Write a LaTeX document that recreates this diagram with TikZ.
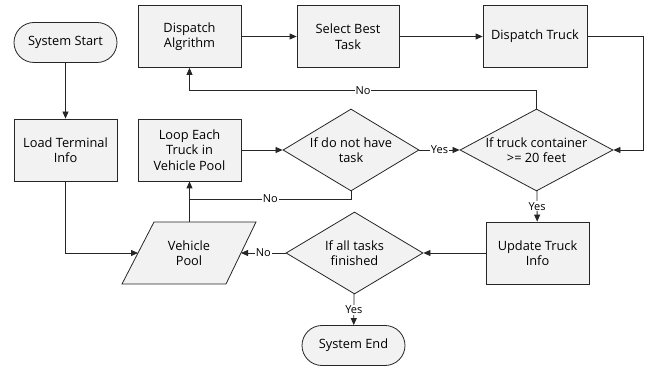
\documentclass[tikz,border=0pt]{standalone}
\usepackage{fontspec}
\setmainfont{Open Sans}
\usetikzlibrary{arrows.meta,shapes.geometric,calc}
\definecolor{boxfill}{HTML}{F2F2F2}
\begin{document}
\begin{tikzpicture}[x=1pt,y=-1pt,
  base/.style={draw=black!85, line width=0.8pt, fill=boxfill, inner sep=0pt, align=center,
    font=\fontsize{12.8}{15.5}\selectfont},
  procbox/.style={base, rectangle, minimum width=103pt, minimum height=62pt},
  termbox/.style={base, rectangle, rounded corners=20pt, minimum width=103pt, minimum height=40pt},
  decbox/.style={base, diamond, minimum height=82pt},
  arr/.style={draw=black!85, line width=0.8pt, -{Triangle[length=7pt,width=6pt]}},
  conn/.style={draw=black!85, line width=0.8pt},
  lab/.style={fill=white, inner sep=1pt, font=\fontsize{11}{12}\selectfont},
  txt/.style={align=center, font=\fontsize{12.8}{15.5}\selectfont}
]
\useasboundingbox (0,0) rectangle (651,366);

\node[termbox] (start) at (65.5,42.5) {System Start};
\node[procbox] (load) at (65.5,150) {Load Terminal\\Info};
\node[procbox] (alg) at (189.5,36.5) {Dispatch\\Algrithm};
\node[procbox, minimum width=102pt] (sel) at (348,36.5) {Select Best\\Task};
\node[procbox, minimum width=104pt] (dtruck) at (535,36.5) {Dispatch Truck};
\node[procbox] (loop) at (189.5,150) {Loop Each\\Truck in\\Vehicle Pool};
\node[decbox, minimum width=136pt, label={[txt]center:If do not have\\task}] (d1) at (351,150) {};
\node[decbox, minimum width=153pt, label={[txt]center:If truck container\\>= 20 feet}] (d2) at (536.5,150) {};
\node[procbox] (upd) at (537.5,253) {Update Truck\\Info};
\node[decbox, minimum width=137pt, label={[txt]center:If all tasks\\finished}] (d3) at (354.5,253) {};
\node[termbox] (end) at (353.5,345.5) {System End};

% Vehicle Pool parallelogram
\coordinate (ptl) at (154,222);
\coordinate (ptr) at (256,222);
\coordinate (pbr) at (226,284);
\coordinate (pbl) at (122,284);
\draw[line width=0.8pt, draw=black!85, fill=boxfill] (ptl) -- (ptr) -- (pbr) -- (pbl) -- cycle;
\node[txt] (pool) at (189,253) {Vehicle\\Pool};
\coordinate (pleft) at ($(ptl)!0.5!(pbl)$);
\coordinate (pright) at ($(ptr)!0.5!(pbr)$);
\coordinate (ptop) at (189.5,222);

\coordinate (j1) at (189.5,199);
\coordinate (c1) at (643,150);

\draw[arr] (start) -- (load);
\draw[arr] (load.south) |- (pleft);
\draw[arr] (ptop) -- (loop.south);
\draw[arr] (loop) -- (d1);
\draw[conn] (d1.south) |- node[lab, pos=0.75] {No} (j1);
\draw[arr] (d1) -- node[lab] {Yes} (d2);
\draw[arr] (alg) -- (sel);
\draw[arr] (sel) -- (dtruck);
\draw[arr] (dtruck.east) -| (c1) -- (d2.east);
\draw[arr] (d2.north) -- ++(0,-18) -| node[lab, pos=0.25] {No} (alg.south);
\draw[arr] (d2) -- node[lab] {Yes} (upd);
\draw[arr] (upd) -- (d3);
\draw[arr] (d3) -- node[lab] {No} (pright);
\draw[arr] (d3) -- node[lab] {Yes} (end);
\end{tikzpicture}
\end{document}
